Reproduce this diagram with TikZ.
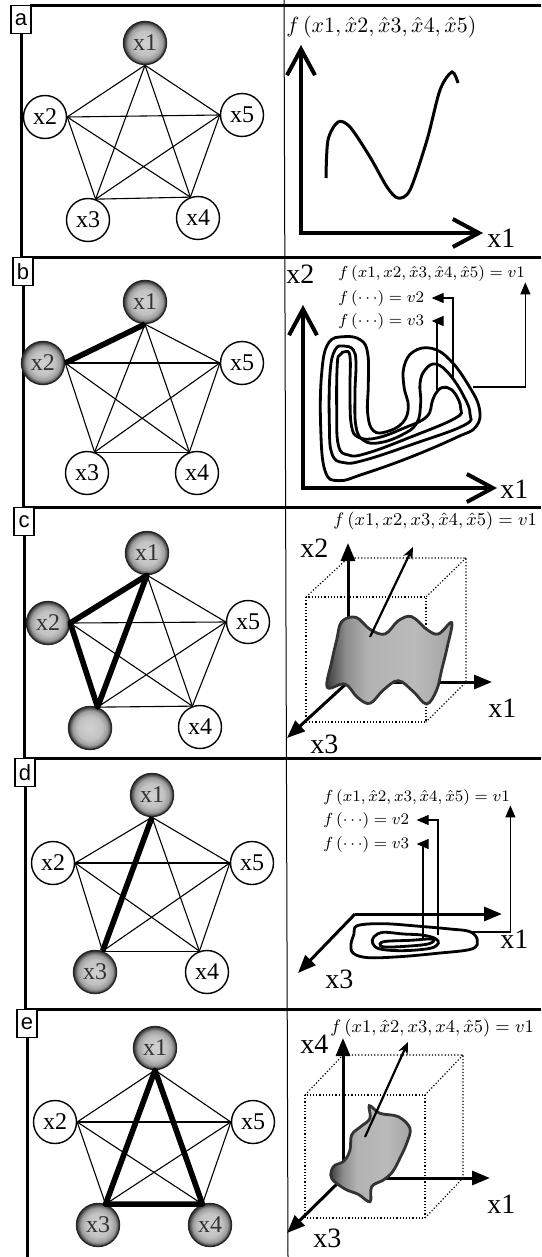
\documentclass[tikz,border=0pt]{standalone}
\usepackage{fontspec}
\setmainfont{Liberation Serif}
\setsansfont{Liberation Sans}
\usetikzlibrary{arrows.meta}

\pgfdeclareradialshading{ballgray}{\pgfpoint{0bp}{0bp}}{color(0bp)=(black!18); color(14bp)=(black!24); color(20bp)=(black!38); color(25bp)=(black!80); color(50bp)=(black!80)}
\pgfdeclarehorizontalshading{sheetgray}{100bp}{color(0bp)=(black!78); color(25bp)=(black!78); color(33bp)=(black!45); color(42bp)=(black!30); color(60bp)=(black!27); color(75bp)=(black!36); color(100bp)=(black!36)}

\tikzset{
  held/.style={circle,draw,line width=0.7pt,fill=white,minimum size=21.5pt,inner sep=0pt,font=\fontsize{12}{12}\selectfont},
  active/.style={held,draw=black!85,shading=ballgray,text=black!80},
  edge/.style={line width=0.55pt},
  boldedge/.style={line width=2.8pt,line join=round},
  frame/.style={line width=1.5pt},
  tag/.style={draw,line width=0.7pt,fill=white,minimum width=10pt,minimum height=14pt,inner sep=0pt,anchor=north,font=\sffamily\fontsize{11}{11}\selectfont},
  barbaxes/.style={line width=2pt,{Straight Barb[length=13pt,width=14pt]}-{Straight Barb[length=13pt,width=14pt]}},
  axis/.style={line width=1.5pt,-{Triangle[length=9pt,width=7pt]}},
  pointer/.style={line width=0.55pt,-{Triangle[length=6pt,width=5pt]}},
  lift/.style={line width=1.1pt,-{Stealth[length=6pt,width=5pt]}},
  cube/.style={densely dotted,line width=0.6pt},
  curve/.style={line width=1.5pt},
  contour/.style={line width=1.4pt},
  sheet/.style={shading=sheetgray,draw=black!80,line width=1.4pt},
  xlab/.style={anchor=base west,inner sep=0pt,font=\fontsize{14}{14}\selectfont},
  flab/.style={anchor=base west,inner sep=0pt}
}

\begin{document}
\begin{tikzpicture}[x=0.5pt,y=-0.5pt]
  \useasboundingbox (0,0) rectangle (541,1257);

  % frames of the five rows
  \draw[line width=0.5pt] (284,0) -- (288,1257);
  \draw[frame] (30,6) -- (541,6);
  \draw[frame] (22,257) -- (541,257);
  \draw[frame] (23,507) -- (541,507);
  \draw[frame] (24,758) -- (541,758);
  \draw[frame] (25,1009) -- (541,1009);
  \node[tag] (ta) at (21,5) {a};
  \node[tag] (tb) at (23,257) {b};
  \node[tag] (tc) at (24,507) {c};
  \node[tag] (td) at (25,758) {d};
  \node[tag] (te) at (27,1009) {e};
  \draw[frame] (ta.south) -- (21,257);
  \draw[frame] (tb.south) -- (23,507);
  \draw[frame] (tc.south) -- (24,758);
  \draw[frame] (td.south) -- (25,1009);
  \draw[frame] (te.south) -- (27,1257);

  % the five graphs
  \node[active] (a1) at (145,43) {x1};
  \node[held] (a2) at (45,117) {x2};
  \node[held] (a3) at (88,220) {x3};
  \node[held] (a4) at (198,218) {x4};
  \node[held] (a5) at (242,115) {x5};

  \node[active] (b1) at (145,302) {x1};
  \node[active] (b2) at (43,363) {x2};
  \node[held] (b3) at (87,473) {x3};
  \node[held] (b4) at (197,473) {x4};
  \node[held] (b5) at (242,363) {x5};

  \node[active] (c1) at (147,553) {x1};
  \node[active] (c2) at (48,623) {x2};
  \node[active] (c3) at (90,728) {};
  \node[held] (c4) at (200,727) {x4};
  \node[held] (c5) at (248,622) {x5};

  \node[active] (d1) at (152,795) {x1};
  \node[held] (d2) at (53,863) {x2};
  \node[active] (d3) at (95,972) {x3};
  \node[held] (d4) at (207,972) {x4};
  \node[held] (d5) at (252,863) {x5};

  \node[active] (e1) at (155,1048) {x1};
  \node[held] (e2) at (55,1122) {x2};
  \node[active] (e3) at (98,1225) {x3};
  \node[active] (e4) at (210,1225) {x4};
  \node[held] (e5) at (253,1122) {x5};

  \foreach \k in {a,b,c,d,e}
    \foreach \p/\q in {1.south/2.east, 1.south/3.70, 1.south/4.110, 1.south/5.west,
                       2.east/3.70, 2.east/4.110, 2.east/5.west,
                       3.70/4.110, 3.70/5.west, 4.110/5.west}
      \draw[edge] (\k\p) -- (\k\q);

  % pairs that are being varied
  \draw[boldedge] (b1.south) -- (b2.east);
  \draw[boldedge] (c2.east) -- (c1.south) -- (c3.70) -- cycle;
  \draw[boldedge] (d1.south) -- (d3.70);
  \draw[boldedge] (e3.70) -- (e1.south) -- (e4.110) -- cycle;

  % row a: one free variable
  \node[flab,font=\fontsize{10.5}{10.5}\selectfont] (fa) at (286,33) {$f\,(x1, \hat{x}2, \hat{x}3, \hat{x}4, \hat{x}5)$};
  \coordinate (aY) at (301,45);
  \coordinate (aO) at (301,233);
  \coordinate (aX) at (483,233);
  \draw[barbaxes] (aY) -- (aO) -- (aX);
  \node[xlab] (ax1) at (487,248) {x1};
  \draw[curve] plot[smooth] coordinates
    {(326,178) (328,140) (338,122) (350,127) (370,157) (387,187) (398,198) (410,190) (427,140) (440,90) (452,72) (458,83)};

  % row b: level curves in the (x1,x2) plane
  \node[xlab] (bx2) at (286,283) {x2};
  \coordinate (bY) at (303,305);
  \coordinate (bO) at (303,488);
  \coordinate (bX) at (497,488);
  \draw[barbaxes] (bY) -- (bO) -- (bX);
  \node[xlab] (bx1) at (500,498) {x1};
  \node[flab,font=\fontsize{8}{8}\selectfont] (fb1) at (338,278) {$f\,(x1, x2, \hat{x}3, \hat{x}4, \hat{x}5) = v1$};
  \node[flab,font=\fontsize{8}{8}\selectfont] (fb2) at (338,302) {$f\,(\cdots) = v2$};
  \node[flab,font=\fontsize{8}{8}\selectfont] (fb3) at (338,325) {$f\,(\cdots) = v3$};
  \begin{scope}[shift={(270,240)},scale=1/3]
    \draw[contour] plot[smooth cycle,tension=0.7] coordinates
      {(175,310) (222,290) (272,300) (293,340) (295,430) (293,520) (310,572) (350,575) (398,548) (415,500) (402,440) (402,380) (430,335) (485,325) (540,360) (595,435) (628,505) (618,560) (560,592) (420,652) (280,702) (205,722) (165,692) (152,560) (155,400)};
    \draw[contour] plot[smooth cycle,tension=0.7] coordinates
      {(195,330) (222,318) (250,330) (258,370) (255,460) (258,560) (282,602) (330,608) (395,585) (440,550) (452,490) (450,430) (465,390) (498,372) (540,405) (582,470) (600,522) (582,556) (430,612) (285,660) (222,668) (186,642) (178,550) (180,400)};
    \draw[contour] plot[smooth cycle,tension=0.7] coordinates
      {(210,345) (225,335) (240,350) (240,450) (244,555) (266,592) (320,594) (400,565) (470,530) (488,480) (505,450) (530,442) (556,462) (572,505) (555,535) (420,592) (290,640) (235,645) (205,615) (200,500) (202,370)};
  \end{scope}
  \coordinate (b1s) at (473,387);
  \coordinate (b2s) at (453,378);
  \coordinate (b3s) at (437,390);
  \draw[pointer] (b1s) -| (fb1.south east);
  \draw[pointer] (b2s) |- ([xshift=3.5pt]fb2.east);
  \draw[pointer] (b3s) |- ([xshift=3.5pt]fb3.east);

  % row c: a level surface in (x1,x2,x3)
  \node[flab,font=\fontsize{9}{9}\selectfont] (fc) at (333,525) {$f\,(x1, x2, x3, \hat{x}4, \hat{x}5) = v1$};
  \node[xlab] (cx2) at (300,557) {x2};
  \node[xlab] (cx1) at (488,717) {x1};
  \node[xlab] (cx3) at (310,753) {x3};
  \draw[cube] (306,597) rectangle (426,722);
  \draw[cube] (306,597) -- (348,558) -- (466,558) -- (466,682) -- (426,722);
  \draw[cube] (466,558) -- (426,597);
  \coordinate (cO) at (348,682);
  \coordinate (cY) at (348,543);
  \coordinate (cX) at (492,682);
  \coordinate (cZ) at (287,738);
  \draw[axis] (cO) -- (cY);
  \draw[axis] (cO) -- (cX);
  \draw[axis] (cO) -- (cZ);
  \begin{scope}[shift={(270,490)},scale=1/3]
    \draw[sheet] plot[smooth cycle,tension=0.6] coordinates
      {(215,395) (258,382) (300,418) (345,432) (385,392) (425,380) (470,418) (505,432) (545,398) (532,470) (515,540) (500,600) (470,642) (430,605) (385,572) (340,600) (300,640) (262,622) (225,582) (172,592) (185,515) (200,450)};
  \end{scope}
  \coordinate (cP) at (370,637);
  \coordinate (cQ) at (413,547);
  \draw[lift] (cP) -- (cQ);

  % row d: level curves in the (x1,x3) plane
  \node[flab,font=\fontsize{8}{8}\selectfont] (fd1) at (323,801) {$f\,(x1, \hat{x}2, x3, \hat{x}4, \hat{x}5) = v1$};
  \node[flab,font=\fontsize{8}{8}\selectfont] (fd2) at (323,824) {$f\,(\cdots) = v2$};
  \node[flab,font=\fontsize{8}{8}\selectfont] (fd3) at (323,848) {$f\,(\cdots) = v3$};
  \coordinate (dO) at (355,914);
  \coordinate (dX) at (502,914);
  \coordinate (dZ) at (298,973);
  \draw[axis] (dO) -- (dX);
  \draw[axis] (dO) -- (dZ);
  \node[xlab] (dx1) at (500,948) {x1};
  \node[xlab] (dx3) at (325,988) {x3};
  \begin{scope}[shift={(270,735)},scale=1/3]
    \draw[contour] plot[smooth cycle,tension=0.6] coordinates
      {(262,572) (340,566) (450,574) (540,582) (600,590) (622,615) (605,642) (500,655) (390,665) (295,668) (250,655) (243,628) (252,597)};
    \draw[contour] plot[smooth cycle,tension=0.6] coordinates
      {(312,605) (340,592) (400,597) (455,600) (495,610) (505,625) (480,640) (400,647) (330,642) (308,625)};
    \draw[contour] plot[smooth cycle,tension=0.6] coordinates
      {(330,627) (348,619) (420,616) (488,612) (478,626) (420,633) (345,636)};
  \end{scope}
  \coordinate (d1s) at (470,932);
  \coordinate (d2s) at (438,935);
  \coordinate (d3s) at (423,940);
  \draw[pointer] (d1s) -| (fd1.south east);
  \draw[pointer] (d2s) |- ([xshift=3.5pt]fd2.east);
  \draw[pointer] (d3s) |- ([xshift=3.5pt]fd3.east);

  % row e: a level surface in (x1,x3,x4)
  \node[flab,font=\fontsize{9}{9}\selectfont] (fe) at (330,1032) {$f\,(x1, \hat{x}2, x3, x4, \hat{x}5) = v1$};
  \node[xlab] (ex4) at (300,1053) {x4};
  \node[xlab] (ex1) at (487,1213) {x1};
  \node[xlab] (ex3) at (313,1247) {x3};
  \draw[cube] (305,1095) rectangle (425,1218);
  \draw[cube] (305,1095) -- (343,1055) -- (463,1055) -- (463,1178) -- (425,1218);
  \draw[cube] (463,1055) -- (425,1095);
  \coordinate (eO) at (343,1178);
  \coordinate (eY) at (343,1038);
  \coordinate (eX) at (490,1178);
  \coordinate (eZ) at (287,1233);
  \draw[axis] (eO) -- (eY);
  \draw[axis] (eO) -- (eX);
  \draw[axis] (eO) -- (eZ);
  \begin{scope}[shift={(270,985)},scale=1/3]
    \draw[sheet] plot[smooth cycle,tension=0.6] coordinates
      {(298,362) (330,385) (385,395) (420,430) (410,475) (392,515) (368,560) (340,585) (305,605) (300,650) (265,628) (225,612) (185,580) (190,545) (222,528) (240,495) (245,450) (272,425) (300,400)};
  \end{scope}
  \coordinate (eP) at (365,1137);
  \coordinate (eQ) at (408,1042);
  \draw[lift] (eP) -- (eQ);
\end{tikzpicture}
\end{document}
